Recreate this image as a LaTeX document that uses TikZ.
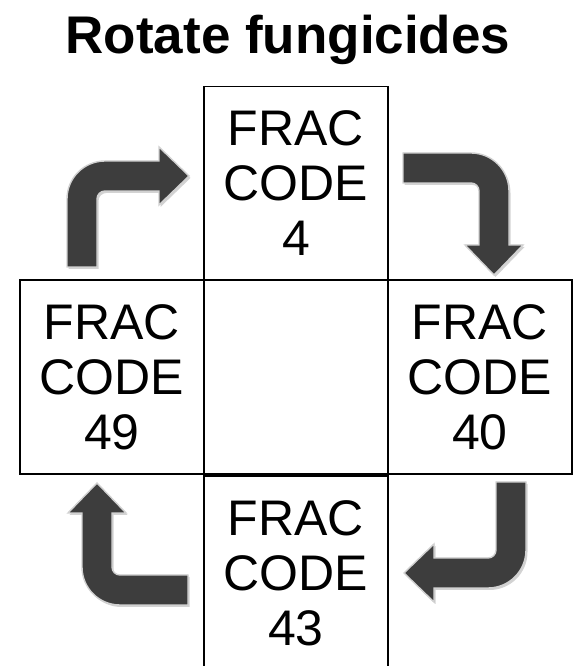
\documentclass[tikz,border=0pt]{standalone}
\usepackage{fontspec}
\setmainfont{Liberation Sans}
\usetikzlibrary{shadows}
\tikzset{
  cell/.style={draw=black, line width=1.6pt, minimum width=184pt, minimum height=194pt,
    inner sep=0pt, align=center, font=\fontsize{50}{55}\selectfont},
  bentarrow/.style={fill=black!76, draw=black!18, line width=1.4pt,
    drop shadow={opacity=0.35, shadow xshift=1.5pt, shadow yshift=-2pt}},
}
\newcommand{\bentpath}{(-15,0) -- (-15,68) arc[start angle=180,end angle=90,radius=38] -- (77,106) -- (77,120) -- (107,91) -- (77,62) -- (77,76) -- (23,76) arc[start angle=90,end angle=180,radius=8] -- (15,0) -- cycle}
\begin{document}
\begin{tikzpicture}[x=1pt,y=1pt]
\useasboundingbox (0,0) rectangle (577,666);
\node[font=\fontsize{53}{60}\selectfont\bfseries, anchor=base] (title) at (288,612) {Rotate fungicides};
\node[cell] (top) at (296,482.5) {FRAC\\CODE\\4};
\node[cell] (left) at (112,289) {FRAC\\CODE\\49};
\node[cell] (center) at (296,289) {};
\node[cell] (right) at (480,289) {FRAC\\CODE\\40};
\node[cell] (bottom) at (296,93) {FRAC\\CODE\\43};
\begin{scope}[shift={(82,399)}]
  \path[bentarrow] \bentpath;
\end{scope}
\begin{scope}[shift={(403,498)}, rotate=-90]
  \path[bentarrow] \bentpath;
\end{scope}
\begin{scope}[shift={(511,184)}, rotate=180]
  \path[bentarrow] \bentpath;
\end{scope}
\begin{scope}[shift={(188,76)}, rotate=90]
  \path[bentarrow] \bentpath;
\end{scope}
\end{tikzpicture}
\end{document}
